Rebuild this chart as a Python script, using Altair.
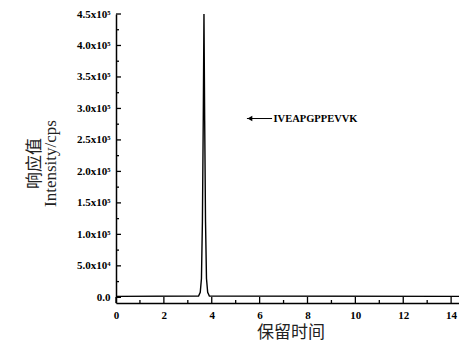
import altair as alt
import pandas as pd

# retention time (min) and intensity (cps)
rt = [0.0, 3.45, 3.52, 3.57, 3.61, 3.645, 3.675, 3.705, 3.74, 3.78, 3.83, 3.90, 14.58]
intensity = [1500, 2000, 8000, 30000, 120000, 280000, 450000, 280000, 120000, 30000, 8000, 2000, 1500]

x_major = [0, 2, 4, 6, 8, 10, 12, 14]
x_minor = [1, 3, 5, 7, 9, 11, 13]
y_major = [0, 50000, 100000, 150000, 200000, 250000, 300000, 350000, 400000, 450000]
y_minor = [25000, 75000, 125000, 175000, 225000, 275000, 325000, 375000, 425000]

label_text = ["IVEAPGPPEVVK"]
arrow_x = [5.47, 6.52]
arrow_y = 284000
text_x = 6.58

XDOM = [0, 14.58]
YDOM = [-9000, 450000]
SERIF = "Liberation Serif, Times New Roman, Noto Sans CJK SC"

xs = alt.Scale(domain=XDOM, nice=False, zero=False)
ys = alt.Scale(domain=YDOM, nice=False, zero=False)

ylabel = ("datum.value == 0 ? '0.0' : (datum.value < 100000 ? "
          "format(datum.value/10000, '.1f') + 'x10\u2074' : "
          "format(datum.value/100000, '.1f') + 'x10\u2075')")

XAXIS = alt.Axis(values=x_major, ticks=False, grid=False, labelPadding=6,
                 labelFlush=False, labelOverlap=False,
                 labelFont=SERIF, labelFontSize=11, labelFontWeight="bold",
                 labelColor="black", domainColor="black", domainWidth=1.5,
                 title="保留时间", titleFont=SERIF, titleFontSize=17,
                 titleFontWeight="normal", titleColor="#222",
                 titleY=34, titleBaseline="alphabetic")
YAXIS = alt.Axis(values=y_major, ticks=False, grid=False, labelPadding=6,
                 labelFlush=False, labelOverlap=False,
                 labelExpr=ylabel, labelFont=SERIF, labelFontSize=11,
                 labelFontWeight="bold", labelColor="black",
                 domainColor="black", domainWidth=1.5,
                 title=["响应值", "Intensity/cps"], titleFont=SERIF,
                 titleFontSize=17, titleFontWeight="normal", titleColor="#222",
                 titleAngle=270, titleX=-90, titleY=149,
                 titleBaseline="top", titleAlign="center", titleLineHeight=16)


def X(field):
    return alt.X(field, scale=xs, axis=XAXIS)


def Y(field):
    return alt.Y(field, scale=ys, axis=YAXIS)


df = pd.DataFrame({"rt": rt, "intensity": intensity})
line = alt.Chart(df).mark_line(color="black", strokeWidth=1.4).encode(
    x=X("rt:Q"), y=Y("intensity:Q"))

# inward tick marks, placed by the axis scales
ymaj = alt.Chart(pd.DataFrame({"v": y_major})).mark_tick(
    orient="horizontal", color="black", thickness=1.3, size=5, opacity=1).encode(
    y=Y("v:Q"), x=alt.value(2.5))
ymin = alt.Chart(pd.DataFrame({"v": y_minor})).mark_tick(
    orient="horizontal", color="black", thickness=1.3, size=3, opacity=1).encode(
    y=Y("v:Q"), x=alt.value(1.5))
xmaj = alt.Chart(pd.DataFrame({"t": x_major})).mark_tick(
    orient="vertical", color="black", thickness=1.3, size=6, opacity=1).encode(
    x=X("t:Q"), y=alt.value(286))
xmin = alt.Chart(pd.DataFrame({"t": x_minor})).mark_tick(
    orient="vertical", color="black", thickness=1.3, size=3, opacity=1).encode(
    x=X("t:Q"), y=alt.value(287.5))

arrow_df = pd.DataFrame({"x": [arrow_x[0]], "x2": [arrow_x[1]], "y": [arrow_y]})
arrow = alt.Chart(arrow_df).mark_rule(color="black", strokeWidth=1).encode(
    x=X("x:Q"), x2="x2:Q", y=Y("y:Q"))
head = alt.Chart(arrow_df).mark_point(shape="triangle-left", filled=True, color="black",
                                      size=30, opacity=1, xOffset=3).encode(
    x=X("x:Q"), y=Y("y:Q"))
txt = alt.Chart(pd.DataFrame({"x": [text_x], "y": [arrow_y], "t": label_text})).mark_text(
    align="left", baseline="middle", font=SERIF, fontSize=10.5, fontWeight="bold",
    color="black").encode(x=X("x:Q"), y=Y("y:Q"), text="t:N")

chart = alt.layer(line, ymaj, ymin, xmaj, xmin, arrow, head, txt).properties(
    width=349, height=289,
    autosize=alt.AutoSizeParams(type="none"),
    padding={"left": 108, "top": 6, "right": -6, "bottom": 37},
    background="white",
).configure_view(stroke=None)

chart.save("out.html", embed_options={"renderer": "svg", "actions": False})
